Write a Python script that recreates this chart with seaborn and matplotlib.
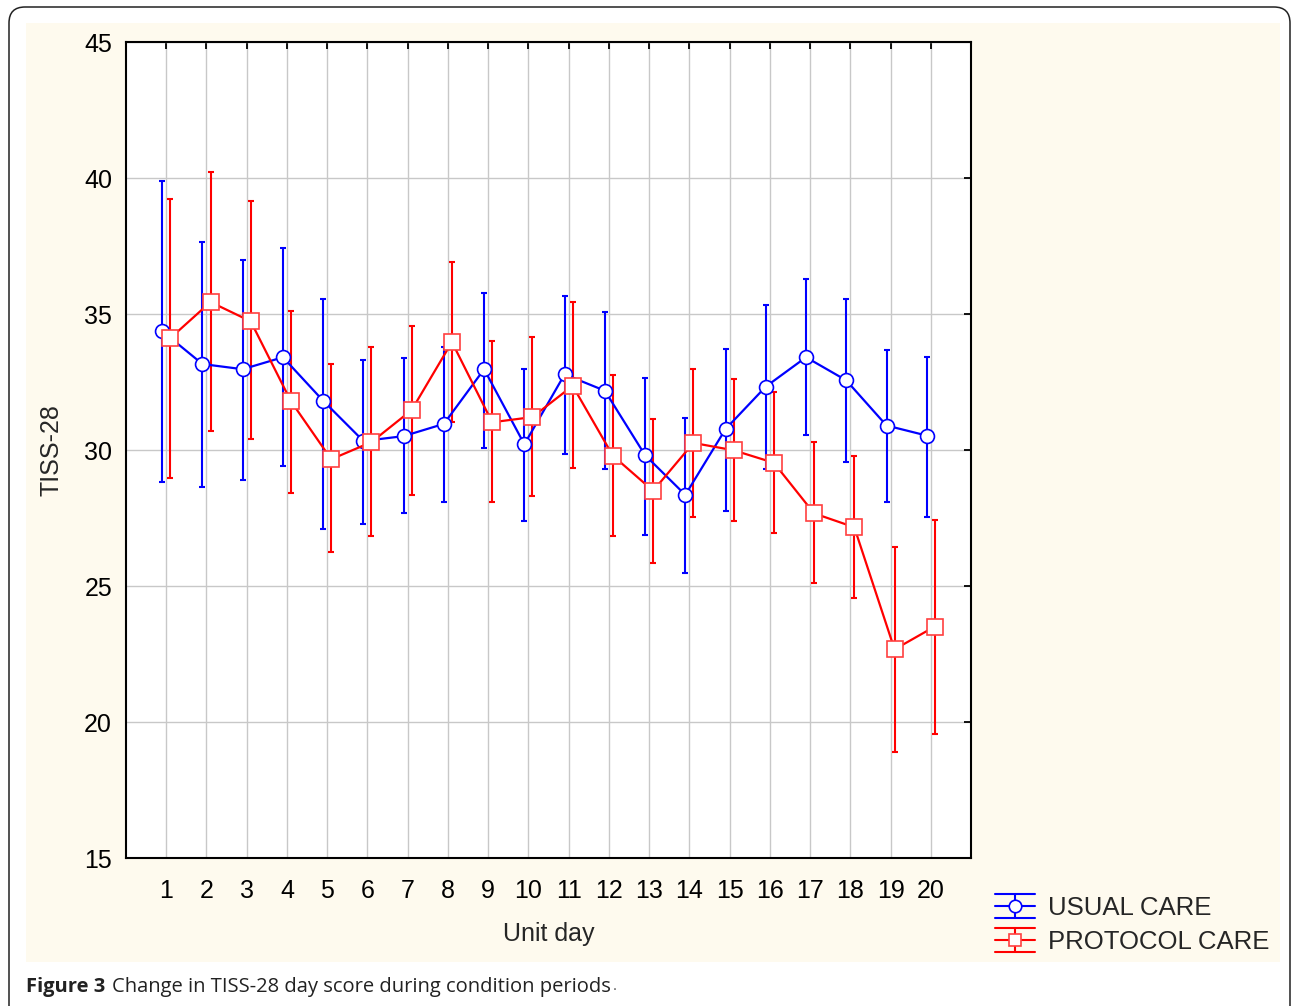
import numpy as np
import pandas as pd
import matplotlib.pyplot as plt
import seaborn as sns
from matplotlib.patches import FancyBboxPatch, Rectangle
from matplotlib.lines import Line2D
from matplotlib.legend_handler import HandlerBase

# values
days = list(range(1, 21))

usual_mean = [34.37, 33.16, 32.97, 33.41, 31.81, 30.33, 30.51, 30.96, 32.97, 30.21,
              32.78, 32.18, 29.81, 28.35, 30.77, 32.33, 33.41, 32.56, 30.90, 30.53]
usual_low = [28.82, 28.64, 28.91, 29.42, 27.10, 27.28, 27.70, 28.08, 30.08, 27.39,
             29.84, 29.30, 26.87, 25.48, 27.76, 29.29, 30.55, 29.55, 28.08, 27.54]
usual_high = [39.90, 37.66, 37.00, 37.42, 35.56, 33.32, 33.38, 33.80, 35.78, 32.97,
              35.66, 35.07, 32.66, 31.19, 33.72, 35.33, 36.29, 35.55, 33.68, 33.42]

protocol_mean = [34.11, 35.44, 34.73, 31.79, 29.66, 30.29, 31.47, 33.97, 31.02, 31.21,
                 32.36, 29.79, 28.50, 30.26, 29.99, 29.53, 27.67, 27.16, 22.67, 23.51]
protocol_low = [28.98, 30.70, 30.39, 28.43, 26.25, 26.84, 28.36, 31.04, 28.08, 28.32,
                29.34, 26.84, 25.85, 27.54, 27.40, 26.94, 25.12, 24.55, 18.89, 19.55]
protocol_high = [39.24, 40.21, 39.17, 35.10, 33.16, 33.79, 34.57, 36.91, 34.01, 34.14,
                 35.44, 32.76, 31.15, 32.98, 32.60, 32.14, 30.29, 29.79, 26.45, 27.44]

groups = ['USUAL CARE', 'PROTOCOL CARE']
y_ticks = [15, 20, 25, 30, 35, 40, 45]


class ErrGlyph(HandlerBase):
    # legend glyph: full-width caps above and below, line with marker in the middle
    def create_artists(self, legend, orig, xd, yd, w, h, fs, trans):
        c = orig.get_color()
        x0, x1 = -xd, w - xd
        cy = (h - yd) / 2
        dy = 8.5
        arts = [
            Line2D([x0, x1], [cy + dy, cy + dy], color=c, lw=1.5),
            Line2D([x0, x1], [cy - dy, cy - dy], color=c, lw=1.5),
            Line2D([(x0 + x1) / 2] * 2, [cy - dy, cy + dy], color=c, lw=1.5),
            Line2D([x0, x1], [cy, cy], color=c, lw=1.5),
            Line2D([(x0 + x1) / 2], [cy], marker=orig.get_marker(), ms=9, mfc='white',
                   mec=orig.get_markeredgecolor(), mew=1.2, ls='none'),
        ]
        for a in arts:
            a.set_transform(trans)
        return arts


sns.set_style('white')
plt.rcParams['font.family'] = ['Liberation Sans', 'DejaVu Sans']

df = pd.DataFrame({
    'day': days * 2,
    'score': usual_mean + protocol_mean,
    'low': usual_low + protocol_low,
    'high': usual_high + protocol_high,
    'group': [groups[0]] * 20 + [groups[1]] * 20,
})
df['pos'] = df['day'] + np.where(df['group'] == groups[0], -0.1, 0.1)

fig = plt.figure(figsize=(12.93, 10.06), dpi=100, facecolor='white')
fig.patches.append(FancyBboxPatch((0.09, -0.6), 12.81, 10.59,
                                  boxstyle='round,pad=0,rounding_size=0.16',
                                  transform=fig.dpi_scale_trans,
                                  fc='none', ec='#222222', lw=1.1, zorder=-10))
fig.patches.append(Rectangle((0.26, 0.44), 12.54, 9.39, transform=fig.dpi_scale_trans,
                             fc='#fefaee', ec='none', zorder=-11))

ax = fig.add_axes([126 / 1293, 148 / 1006, 845 / 1293, 816 / 1006])
ax.set_facecolor('white')

styles = {
    groups[0]: dict(color='#0000ff', marker='o', ms=10, mec='#0000ff'),
    groups[1]: dict(color='#ff0000', marker='s', ms=11, mec='#ff4040'),
}

handles = []
for g in groups:
    st = styles[g]
    d = df[df['group'] == g]
    ax.errorbar(d['pos'], d['score'], yerr=[d['score'] - d['low'], d['high'] - d['score']],
                fmt='none', ecolor=st['color'], elinewidth=1.5, capsize=2.5,
                capthick=1.5, zorder=2)
    sns.lineplot(data=d, x='pos', y='score', ax=ax, color=st['color'], lw=1.6,
                 marker=st['marker'], markersize=st['ms'], markerfacecolor='white',
                 markeredgecolor=st['mec'], markeredgewidth=1.2, legend=False, zorder=3)
    handles.append(Line2D([], [], color=st['color'], marker=st['marker'], mec=st['mec']))

ax.set_xlim(0, 21)
ax.set_ylim(15, 45)
ax.set_xticks(days)
ax.set_yticks(y_ticks)
ax.grid(True, color='#c8c8c8', lw=1)
ax.set_axisbelow(True)
for s in ax.spines.values():
    s.set_color('black')
    s.set_linewidth(1.5)
    s.set_visible(True)
ax.tick_params(direction='in', length=5, width=1.3, top=True, right=True,
               labelsize=18, colors='black')
ax.tick_params(axis='x', pad=15)
ax.tick_params(axis='y', pad=10)
ax.set_xlabel('Unit day', fontsize=18, labelpad=14)
ax.set_ylabel('TISS-28', fontsize=18, labelpad=15)

fig.legend(handles=handles, labels=groups, loc='upper left',
           handler_map={Line2D: ErrGlyph()},
           bbox_to_anchor=(995 / 1293, 1 - 896 / 1006), frameon=False, fontsize=18.5,
           handlelength=1.55, labelspacing=0.4, handletextpad=0.5,
           borderpad=0, borderaxespad=0)

cap_y = 1 - 987 / 1006
cap_font = ['Open Sans', 'DejaVu Sans']
fig.text(26 / 1293, cap_y, 'Figure 3', fontsize=14.5, fontweight='bold',
         family=cap_font, va='center', color='#222222')
fig.text(112 / 1293, cap_y, 'Change in TISS-28 day score during condition periods',
         fontsize=14.5, family=cap_font, va='center', color='#222222')
fig.text(613 / 1293, cap_y, '.', fontsize=11, family=cap_font, va='center', color='#555555')

fig.savefig('out.png', dpi=100, facecolor='white')
